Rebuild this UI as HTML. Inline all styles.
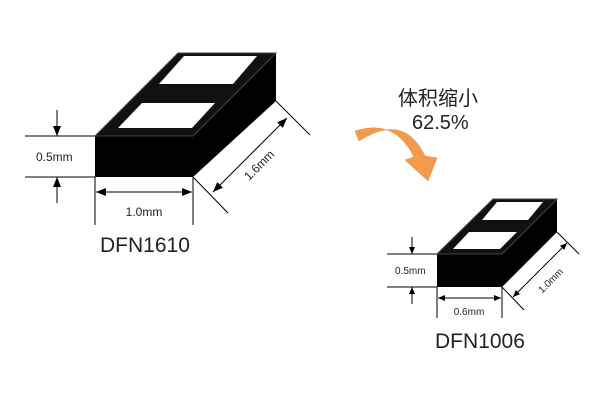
<!DOCTYPE html>
<html><head><meta charset="utf-8"><style>
body{margin:0;background:#fff;}
svg{display:block;}
text{font-family:"Liberation Sans","Noto Sans CJK SC",sans-serif;fill:#222;}
</style></head><body>
<svg width="600" height="400" viewBox="0 0 600 400" xmlns="http://www.w3.org/2000/svg">
<defs>
<marker id="a" markerWidth="10" markerHeight="8" refX="10" refY="4" orient="auto" markerUnits="userSpaceOnUse"><path d="M0,0 L10,4 L0,8 Z" fill="#000"/></marker>
<marker id="b" markerWidth="7" markerHeight="6" refX="7" refY="3" orient="auto" markerUnits="userSpaceOnUse"><path d="M0,0 L7,3 L0,6 Z" fill="#000"/></marker>
</defs>
<!-- big chip -->
<polygon points="95,136 178,53 276,53 276,101 193,177 95,177" fill="#000"/>
<polygon points="95,136 178,53 276,53 193,136" fill="#111" stroke="#444" stroke-width="1"/>
<polygon points="118,128 192,128 215,103 142,103" fill="#fff"/>
<polygon points="159,84 233,84 257,56 184,56" fill="#fff"/>
<g stroke="#000" stroke-width="1" fill="none">
<line x1="25" y1="136" x2="95" y2="136"/><line x1="25" y1="177" x2="95" y2="177"/>
<line x1="57" y1="110" x2="57" y2="136" marker-end="url(#a)"/>
<line x1="57" y1="203" x2="57" y2="177" marker-end="url(#a)"/>
<line x1="95" y1="177" x2="95" y2="225"/><line x1="193" y1="177" x2="193" y2="225"/>
<line x1="144" y1="192" x2="96" y2="192" marker-end="url(#a)"/>
<line x1="144" y1="192" x2="192" y2="192" marker-end="url(#a)"/>
<line x1="193" y1="177" x2="228" y2="213"/><line x1="276" y1="101" x2="310" y2="135"/>
<line x1="250" y1="155" x2="213" y2="192" marker-end="url(#a)"/>
<line x1="250" y1="155" x2="287" y2="118" marker-end="url(#a)"/>
</g>
<text x="36" y="161" font-size="12">0.5mm</text>
<text x="144" y="216" font-size="12" text-anchor="middle">1.0mm</text>
<text x="262" y="168" font-size="12" text-anchor="middle" transform="rotate(-45 262 168)">1.6mm</text>
<text x="100" y="252" font-size="21">DFN1610</text>
<!-- small chip -->
<polygon points="437,254 493,199 557,199 557,232 502,287 437,287" fill="#000"/>
<polygon points="437,254 493,199 557,199 502,254" fill="#111" stroke="#444" stroke-width="1"/>
<polygon points="453,249 500,249 517,232 469,232" fill="#fff"/>
<polygon points="482,220 528,220 543,202 497,202" fill="#fff"/>
<g stroke="#000" stroke-width="1" fill="none">
<line x1="387" y1="254" x2="437" y2="254"/><line x1="387" y1="287" x2="437" y2="287"/>
<line x1="412" y1="237" x2="412" y2="254" marker-end="url(#b)"/>
<line x1="412" y1="304" x2="412" y2="287" marker-end="url(#b)"/>
<line x1="437" y1="287" x2="437" y2="318"/><line x1="502" y1="287" x2="502" y2="318"/>
<line x1="469" y1="298" x2="438" y2="298" marker-end="url(#b)"/>
<line x1="469" y1="298" x2="501" y2="298" marker-end="url(#b)"/>
<line x1="502" y1="287" x2="524" y2="310"/><line x1="557" y1="232" x2="579" y2="254"/>
<line x1="540" y1="270" x2="513" y2="297" marker-end="url(#b)"/>
<line x1="540" y1="270" x2="567" y2="243" marker-end="url(#b)"/>
</g>
<text x="395" y="274" font-size="10">0.5mm</text>
<text x="469" y="315" font-size="10" text-anchor="middle">0.6mm</text>
<text x="553" y="283" font-size="10" text-anchor="middle" transform="rotate(-45 553 283)">1.0mm</text>
<text x="435" y="348" font-size="21">DFN1006</text>
<!-- title -->
<text x="398" y="105" font-size="20">体积缩小</text>
<text x="412" y="129" font-size="20">62.5%</text>
<!-- orange arrow -->
<path d="M355,131 Q395,118 414,157 L405,160 L428,181 L437,158 L425,156 Q404,112 359,141 Z" fill="#f39a4f" stroke="#e08a40" stroke-width="0.5"/>
</svg>
</body></html>
